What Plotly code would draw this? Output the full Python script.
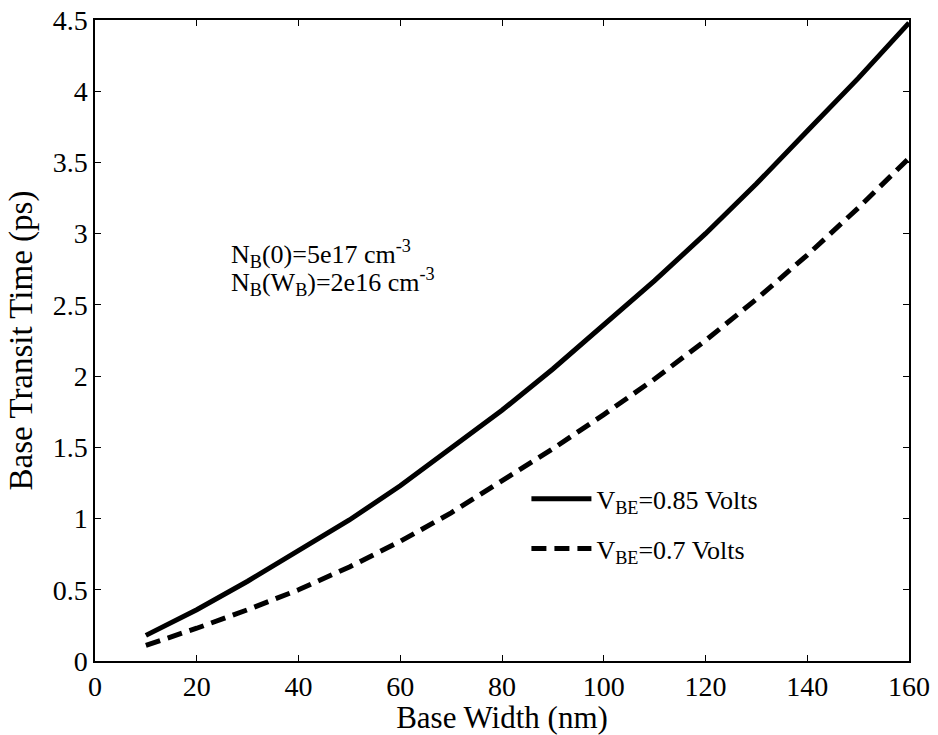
import plotly.graph_objects as go

base_width_nm = [10, 20, 30, 40, 50, 60, 70, 80, 90, 100, 110, 120, 130, 140, 150, 160]
transit_085 = [0.18, 0.36, 0.56, 0.77, 0.99, 1.23, 1.49, 1.76, 2.05, 2.36, 2.67, 3.00, 3.35, 3.72, 4.09, 4.48]
transit_070 = [0.11, 0.23, 0.36, 0.50, 0.66, 0.84, 1.04, 1.26, 1.49, 1.73, 1.98, 2.25, 2.54, 2.85, 3.18, 3.53]
x_ticks = [0, 20, 40, 60, 80, 100, 120, 140, 160]
y_ticks = [0, 0.5, 1, 1.5, 2, 2.5, 3, 3.5, 4, 4.5]
y_tick_text = ["0", "0.5", "1", "1.5", "2", "2.5", "3", "3.5", "4", "4.5"]
note_lines = ["N<sub>B</sub>(0)=5e17 cm<sup>-3</sup>",
              "N<sub>B</sub>(W<sub>B</sub>)=2e16 cm<sup>-3</sup>"]
note_x = 26.3
note_y = [2.86, 2.66]

FONT = "Liberation Serif"

fig = go.Figure()
fig.add_trace(go.Scatter(x=base_width_nm, y=transit_085, mode="lines",
                         name="V<sub>BE</sub>=0.85 Volts", legendgroup="a",
                         line=dict(color="black", width=5)))
fig.add_trace(go.Scatter(x=base_width_nm, y=transit_070, mode="lines",
                         name="V<sub>BE</sub>=0.7 Volts", legendgroup="b",
                         line=dict(color="black", width=5, dash="15px,8px")))

axis_common = dict(showgrid=False, zeroline=False, showline=True, linecolor="black",
                   linewidth=1.5, mirror="ticks", ticks="inside", ticklen=6,
                   tickcolor="black", automargin=False,
                   tickfont=dict(family=FONT, size=28, color="black"))

fig.update_xaxes(range=[0, 160], tickvals=x_ticks, **axis_common,
                 title=dict(text="Base Width (nm)", font=dict(family=FONT, size=31, color="black"),
                            standoff=10))
fig.update_yaxes(range=[0, 4.5], tickvals=y_ticks, ticktext=y_tick_text, **axis_common,
                 title=dict(text="Base Transit Time (ps)", font=dict(family=FONT, size=33, color="black"),
                            standoff=10))

for txt, yy in zip(note_lines, note_y):
    fig.add_annotation(x=note_x, y=yy, xanchor="left", yanchor="middle",
                       showarrow=False, align="left", text=txt,
                       font=dict(family=FONT, size=26, color="black"))

fig.update_layout(
    width=938, height=735,
    margin=dict(l=95, r=29, t=20, b=74, autoexpand=False),
    paper_bgcolor="white", plot_bgcolor="white",
    showlegend=True,
    legend=dict(x=0.53, y=0.214, xanchor="left", yanchor="middle",
                bgcolor="rgba(0,0,0,0)", font=dict(family=FONT, size=26, color="black"),
                itemwidth=60, traceorder="grouped", tracegroupgap=13),
)

fig.write_html("out.html")
